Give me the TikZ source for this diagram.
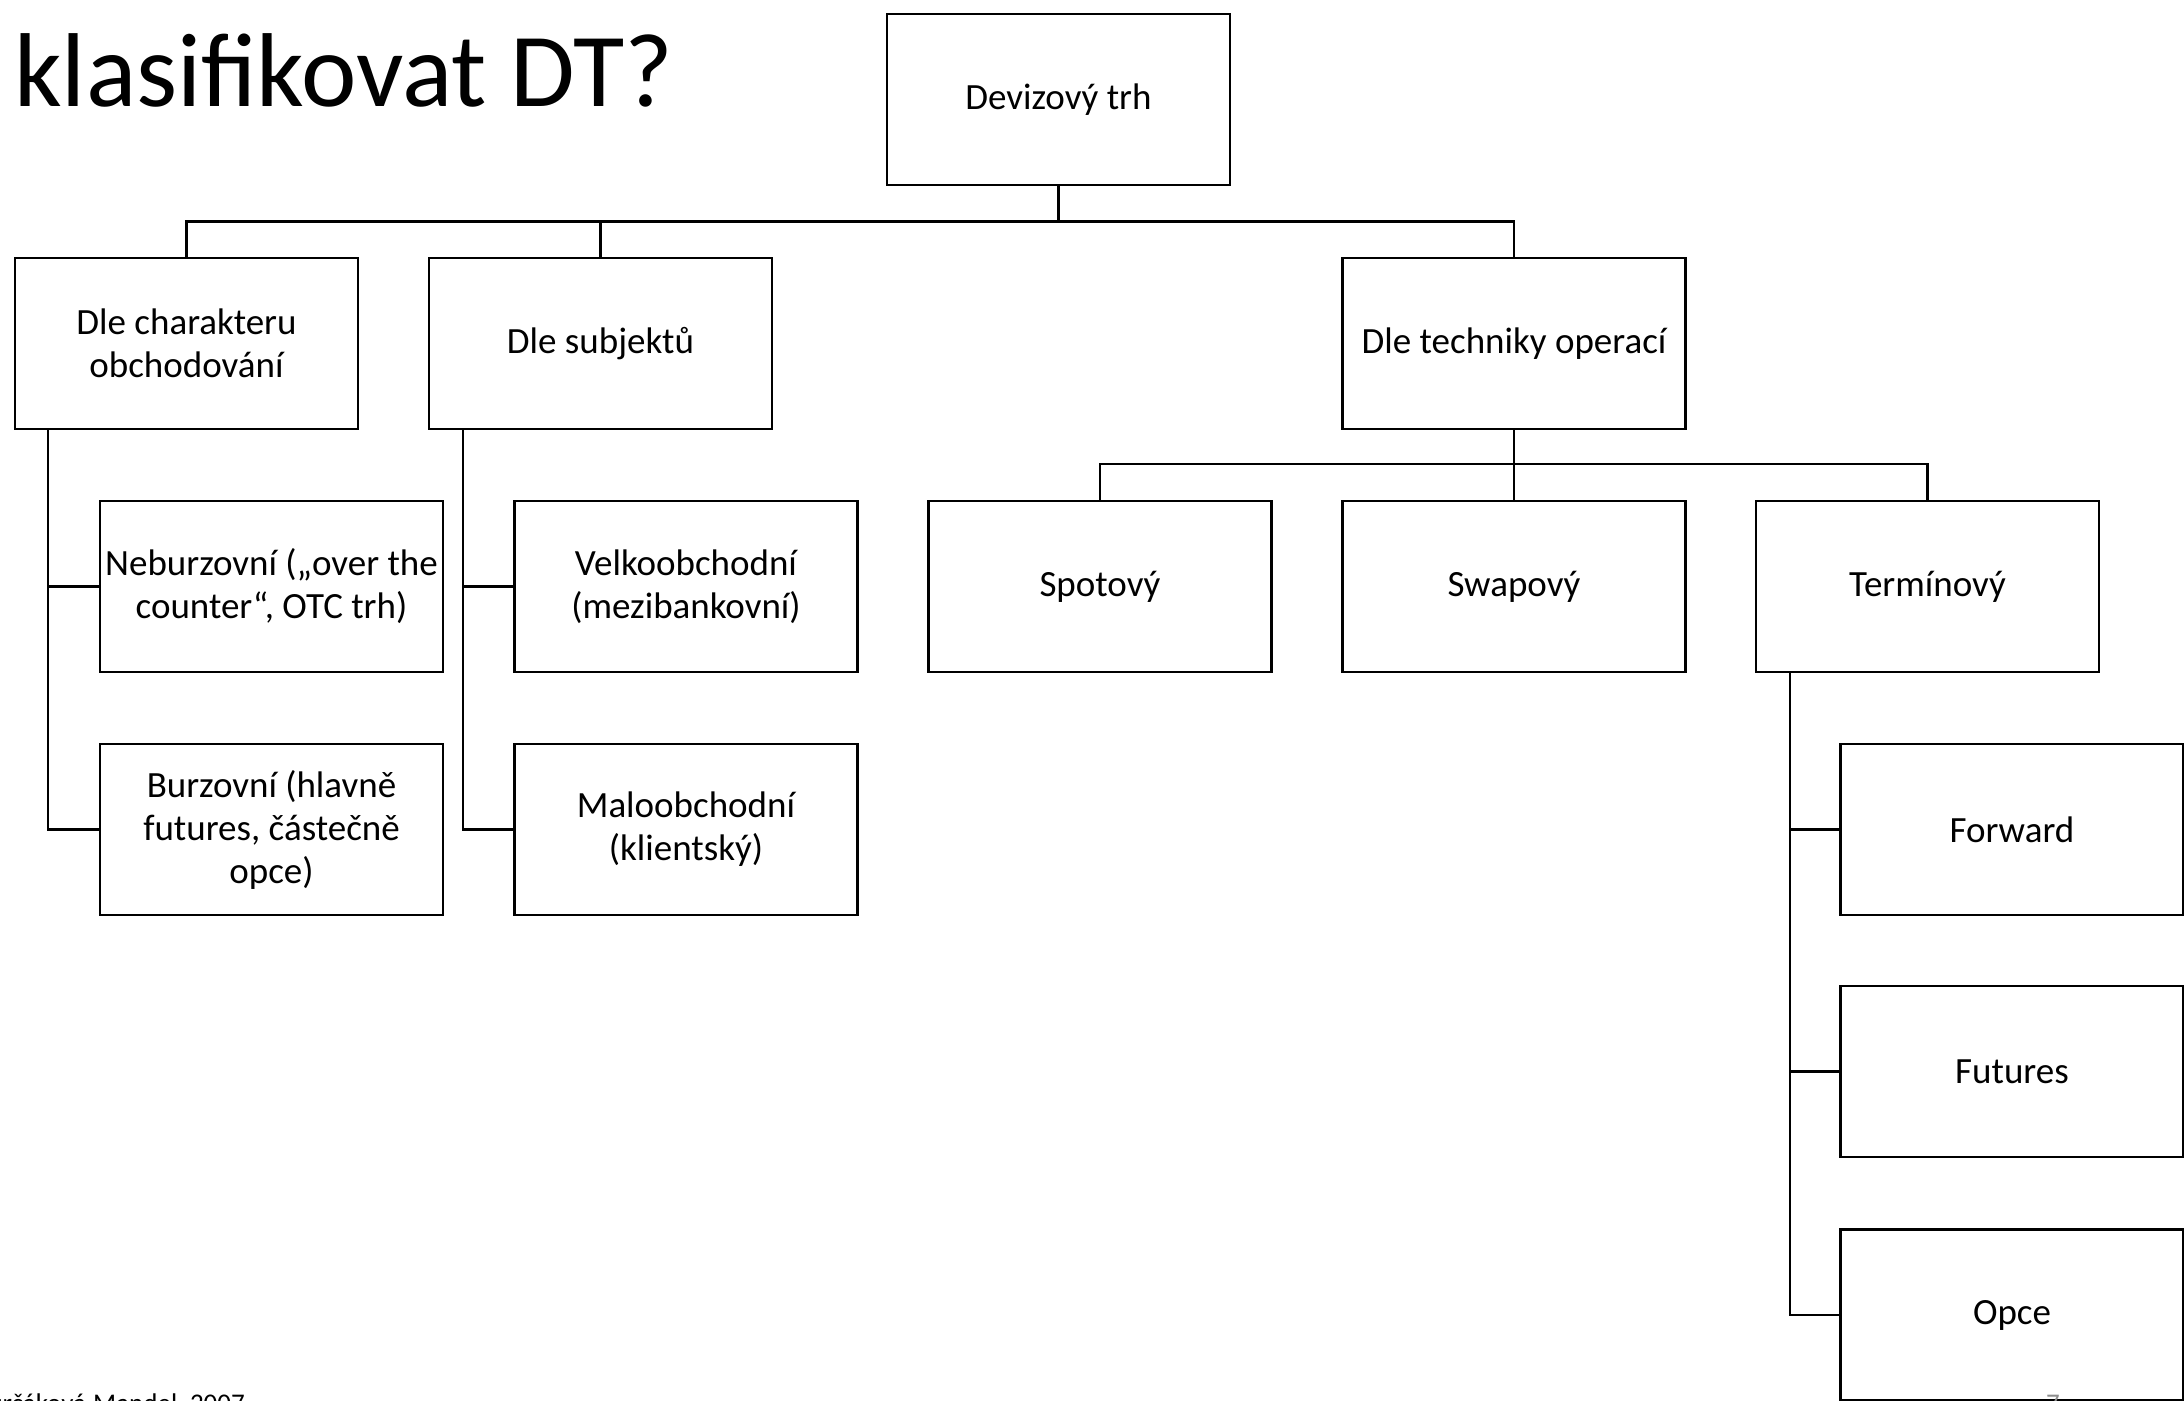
\documentclass[tikz,border=0pt]{standalone}
\usepackage{fontspec}
\setmainfont{Carlito}
\usetikzlibrary{calc}

\tikzset{
  box/.style={draw=black, line width=2.2pt, minimum width=343pt, minimum height=171pt,
    inner sep=0pt, align=center, font=\fontsize{37}{43}\selectfont},
  conn/.style={draw=black, line width=2.2pt},
  foot/.style={inner sep=0pt, font=\fontsize{27}{30}\selectfont},
}

\begin{document}
\begin{tikzpicture}[x=1pt, y=-1pt]
  \useasboundingbox (0,0) rectangle (2184,1400);
  \clip (0,0) rectangle (2184,1400);

  % title
  \node[anchor=base west, inner sep=0pt, font=\fontsize{105}{112}\selectfont] (title) at (14,106) {klasifikovat DT?};

  % root
  \node[box] (dev) at (1058.5,99.5) {Devizový trh};

  % second level
  \node[box] (A) at (186.5,343.5) {Dle charakteru\\obchodování};
  \node[box] (B) at (600.5,343.5) {Dle subjektů};
  \node[box] (C) at (1514,343.5) {Dle techniky operací};

  % children of A and B
  \node[box] (nebur) at (271.5,586.5) {Neburzovní („over the\\counter“, OTC trh)};
  \node[box] (burz)  at (271.5,829.5) {Burzovní (hlavně\\futures, částečně\\opce)};
  \node[box] (velko) at (686,586.5) {Velkoobchodní\\(mezibankovní)};
  \node[box] (malo)  at (686,829.5) {Maloobchodní\\(klientský)};

  % children of C
  \node[box] (spot) at (1100,586.5) {Spotový};
  \node[box] (swap) at (1514,586.5) {Swapový};
  \node[box] (term) at (1927.5,586.5) {Termínový};

  % children of Termínový
  \node[box] (fwd)  at (2012,829.5)  {Forward};
  \node[box] (fut)  at (2012,1071.5) {Futures};
  \node[box] (opce) at (2012,1315)   {Opce};

  % bus lines
  \coordinate (busT) at (0,221.5);
  \coordinate (busC) at (0,464);
  \coordinate (railA) at ($(A.south west)+(34,0)$);
  \coordinate (railB) at ($(B.south west)+(35,0)$);
  \coordinate (railT) at ($(term.south west)+(35,0)$);

  \draw[conn] (dev.south) -- (dev.south |- busT);
  \draw[conn] (A.north) |- (C.north |- busT) -- (C.north);
  \draw[conn] (B.north) -- (B.north |- busT);

  \draw[conn] (C.south) -- (swap.north);
  \draw[conn] (spot.north) |- (term.north |- busC) -- (term.north);

  \draw[conn] (railA) |- (burz.west);
  \draw[conn] (railA |- nebur.west) -- (nebur.west);
  \draw[conn] (railB) |- (malo.west);
  \draw[conn] (railB |- velko.west) -- (velko.west);
  \draw[conn] (railT) |- (opce.west);
  \draw[conn] (railT |- fwd.west) -- (fwd.west);
  \draw[conn] (railT |- fut.west) -- (fut.west);

  % footer, cut by the page edge
  \node[foot, anchor=base east] (srcA) at (93,1412) {Durčáková,\ };
  \node[foot, anchor=base west] (srcB) at (93,1412) {Mandel, 2007};
  \node[foot, anchor=base, text=black!45] (pg) at (2053,1412) {7};
\end{tikzpicture}
\end{document}
